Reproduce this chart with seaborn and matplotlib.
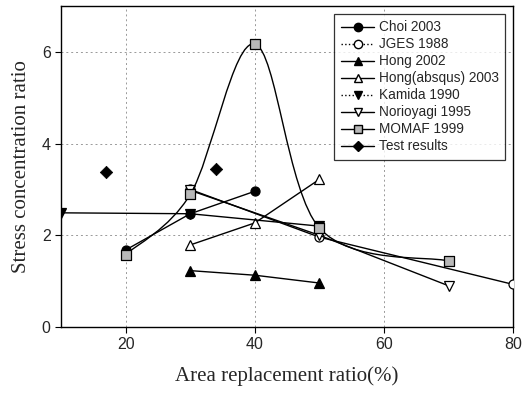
import numpy as np
import pandas as pd
import matplotlib
matplotlib.use("Agg")
import matplotlib.pyplot as plt
import seaborn as sns
from matplotlib.path import Path
from matplotlib.patches import PathPatch
from matplotlib.lines import Line2D

# values
choi_x = [20, 30, 40]
choi_y = [1.68, 2.47, 2.96]
jges_x = [30, 50, 80]
jges_y = [3.0, 1.96, 0.93]
hong_x = [30, 40, 50]
hong_y = [1.23, 1.13, 0.96]
hongabs_x = [30, 40, 50]
hongabs_y = [1.79, 2.27, 3.22]
kamida_x = [10, 30, 50]
kamida_y = [2.49, 2.47, 2.2]
norio_x = [30, 50, 70]
norio_y = [2.98, 2.0, 0.9]
momaf_x = [20, 30, 40, 50, 70]
momaf_y = [1.58, 2.89, 6.17, 2.16, 1.44]
test_x = [17, 34]
test_y = [3.38, 3.45]

sns.set_style("ticks")
plt.rcParams["font.family"] = ["Liberation Sans", "DejaVu Sans"]

fig = plt.figure(figsize=(5.22, 3.95), dpi=100)
ax = fig.add_axes([0.117, 0.172, 0.866, 0.813])

ms = 6.5
# name, x, y, marker, face colour, legend line style
series = [
    ("Choi 2003", choi_x, choi_y, "o", "black", "-"),
    ("JGES 1988", jges_x, jges_y, "o", "white", ":"),
    ("Hong 2002", hong_x, hong_y, "^", "black", "-"),
    ("Hong(absqus) 2003", hongabs_x, hongabs_y, "^", "white", "-"),
    ("Kamida 1990", kamida_x, kamida_y, "v", "black", ":"),
    ("Norioyagi 1995", norio_x, norio_y, "v", "white", "-"),
]
handles = []
for name, xs, ys, mk, fc, ls in series:
    sns.lineplot(x=xs, y=ys, ax=ax, color="black", lw=1.0,
                 marker=mk, markersize=ms, markerfacecolor=fc,
                 markeredgecolor="black", markeredgewidth=0.9, zorder=3)
    handles.append(Line2D([], [], color="black", lw=1.0, linestyle=ls, marker=mk,
                          markersize=ms - 0.5, markerfacecolor=fc, markeredgecolor="black"))

# MOMAF: smoothed curve (Excel-style bezier through the points)
pts = np.column_stack([momaf_x, momaf_y]).astype(float)
verts = [pts[0]]
codes = [Path.MOVETO]
n = len(pts)
for i in range(n - 1):
    p0 = pts[max(i - 1, 0)]
    p1 = pts[i]
    p2 = pts[i + 1]
    p3 = pts[min(i + 2, n - 1)]
    verts += [p1 + (p2 - p0) / 6, p2 - (p3 - p1) / 6, p2]
    codes += [Path.CURVE4] * 3
ax.add_patch(PathPatch(Path(verts, codes), fill=False, ec="black", lw=1.0, zorder=3))
sns.scatterplot(x=momaf_x, y=momaf_y, ax=ax, marker="s", s=42, color="#b8b8b8",
                edgecolor="black", linewidth=0.9, zorder=4)
handles.append(Line2D([], [], color="black", lw=1.0, marker="s", markersize=ms - 0.5,
                      markerfacecolor="#b8b8b8", markeredgecolor="black"))

sns.scatterplot(x=test_x, y=test_y, ax=ax, marker="D", s=40, color="black",
                edgecolor="black", zorder=4)
handles.append(Line2D([], [], color="black", lw=1.0, marker="D", markersize=ms - 1,
                      markerfacecolor="black", markeredgecolor="black"))

labels = [s[0] for s in series] + ["MOMAF 1999", "Test results"]

ax.set_xlim(10, 80)
ax.set_ylim(0, 7)
ax.set_xticks([20, 40, 60, 80])
ax.set_yticks([0, 2, 4, 6])
ax.grid(True, color="#999999", linestyle=(0, (2, 3)), lw=0.7)
for sp in ax.spines.values():
    sp.set_visible(True)
    sp.set_color("black")
    sp.set_linewidth(1.0)
ax.tick_params(labelsize=11.5, length=4, color="black", direction="out")

ax.set_xlabel("Area replacement ratio(%)", family="Liberation Serif", fontsize=15, labelpad=10)
ax.set_ylabel("Stress concentration ratio", family="Liberation Serif", fontsize=15, labelpad=8)

leg = ax.legend(handles, labels, loc="upper right", bbox_to_anchor=(0.998, 0.997),
                fontsize=9.8, frameon=True, fancybox=False, handlelength=2.4,
                labelspacing=0.22, borderpad=0.5, handletextpad=0.35)
leg.get_frame().set_edgecolor("black")
leg.get_frame().set_linewidth(0.9)

fig.savefig("out.png", dpi=100)
